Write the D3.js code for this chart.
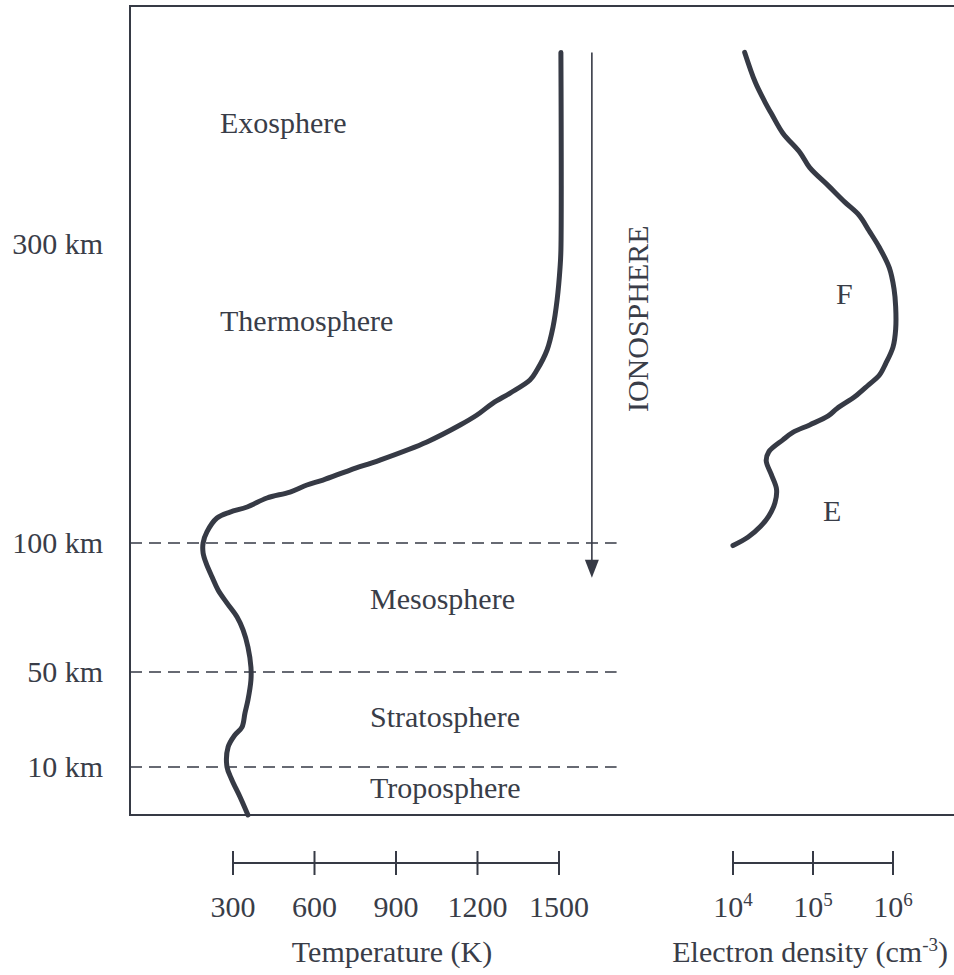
<!DOCTYPE html>
<html>
<head>
<meta charset="utf-8">
<script src="https://cdn.jsdelivr.net/npm/d3@7"></script>
<style>
  html, body { margin: 0; padding: 0; background: #ffffff; }
  svg text { font-family: "Liberation Serif", "Times New Roman", serif; fill: #393d48; }
</style>
</head>
<body>
<svg id="chart" width="954" height="975"></svg>
<script>
// Altitude axis: labelled heights and the layer boundaries drawn as dashed lines
const altitudeTicks = [10, 50, 100, 300];
const altitudeTickLabels = ["10 km", "50 km", "100 km", "300 km"];
const boundaryAltitudes = [10, 50, 100];

// Temperature scale bar
const temperatureTicks = [300, 600, 900, 1200, 1500];

// Electron density scale bar (powers of ten)
const densityExponents = [4, 5, 6];

// Temperature profile: altitude (km) and temperature (K)
const tempAltitude = [0, 3.75, 7.3, 10, 18.4, 23.5, 26.8, 32.7, 38.2, 46.6, 51.9, 59.7, 66.3, 71.3,
  76.7, 81.8, 86.8, 92.2, 96.1, 100, 107.4, 116.7, 120.7, 124.1, 130.1, 134.1, 138.8, 142.1, 148.8,
  155.5, 167.6, 178.9, 185.6, 193.6, 200.3, 209, 215.7, 229.1, 244.5, 262.5, 284.6, 296, 428];
const tempKelvin = [355, 326, 296, 278, 282, 307, 333, 344, 355, 366, 366, 355, 337, 315,
  278, 245, 223, 201, 190, 190, 204, 241, 289, 352, 425, 510, 572, 631, 731,
  841, 1014, 1136, 1198, 1257, 1320, 1393, 1419, 1456, 1478, 1493, 1504, 1507, 1507];

// Electron density profile: altitude (km) and density (cm^-3)
const densAltitude = [428, 408, 395, 386, 374, 361, 351, 339, 328, 319, 309, 298, 284, 270, 258,
  243, 231, 220, 212, 206, 198, 190, 185, 179, 174, 169, 161, 155, 146, 136, 127, 118, 111, 104, 99];
const densValue = [1.4e4, 1.9e4, 2.5e4, 3.1e4, 4.2e4, 6.9e4, 9.1e4, 1.55e5, 2.5e5, 3.8e5, 5.0e5,
  6.7e5, 9.0e5, 1.03e6, 1.08e6, 1.08e6, 1.0e6, 8.1e5, 6.7e5, 5.0e5, 3.35e5, 2.0e5, 1.55e5, 9.1e4,
  5.6e4, 4.2e4, 2.8e4, 2.6e4, 3.0e4, 3.5e4, 3.35e4, 2.8e4, 2.2e4, 1.55e4, 1.0e4];

// Atmospheric layer names
const layerNames = ["Exosphere", "Thermosphere", "Mesosphere", "Stratosphere", "Troposphere"];
const layerNameAltitudes = [374, 242, 74.4, 26.8, 3.5];
const ionosphereLabel = "IONOSPHERE";
const ionosphereTop = 428, ionosphereBottom = 86.5;
const regionLabels = ["F", "E"];
const regionAltitudes = [260, 115];

const ink = "#363a45";
const W = 954;
const svg = d3.select("#chart");

// Piecewise-linear altitude scale (the diagram stretches the lower atmosphere)
const y = d3.scaleLinear()
  .domain([0, 10, 50, 100, 300, 459])
  .range([815, 767, 672, 543, 244, 6]);
const xT = d3.scaleLinear().domain([300, 1500]).range([233, 559]);
const xN = d3.scaleLog().domain([1e4, 1e6]).range([733, 893]);

const frameLeft = 130;
const yTop = y(459), yBottom = y(0);

// Frame: left axis, top and bottom rules
const frame = svg.append("g").attr("stroke", ink).attr("stroke-width", 2).attr("fill", "none");
frame.append("path").attr("d", `M${W},${yTop}H${frameLeft}V${yBottom}H${W}`);

// Layer boundaries
svg.append("g").selectAll("line").data(boundaryAltitudes).join("line")
  .attr("x1", frameLeft).attr("x2", xT(1712))
  .attr("y1", d => y(d)).attr("y2", d => y(d))
  .attr("stroke", ink).attr("stroke-width", 1.6)
  .attr("stroke-dasharray", "12,7");

// Altitude labels
svg.append("g").selectAll("text").data(altitudeTicks).join("text")
  .attr("x", 103).attr("y", d => y(d) + 10)
  .attr("text-anchor", "end").attr("font-size", 30)
  .text((d, i) => altitudeTickLabels[i]);

// Temperature profile
const line = d3.line().curve(d3.curveCatmullRom.alpha(0.5));
svg.append("path")
  .attr("d", line(tempAltitude.map((a, i) => [xT(tempKelvin[i]), y(a)])))
  .attr("fill", "none").attr("stroke", ink).attr("stroke-width", 5)
  .attr("stroke-linecap", "round").attr("stroke-linejoin", "round");

// Electron density profile
svg.append("path")
  .attr("d", line(densAltitude.map((a, i) => [xN(densValue[i]), y(a)])))
  .attr("fill", "none").attr("stroke", ink).attr("stroke-width", 5)
  .attr("stroke-linecap", "round").attr("stroke-linejoin", "round");

// Ionosphere arrow
const arrowX = xT(1621);
const tipY = y(ionosphereBottom);
svg.append("line")
  .attr("x1", arrowX).attr("x2", arrowX)
  .attr("y1", y(ionosphereTop)).attr("y2", tipY - 10)
  .attr("stroke", ink).attr("stroke-width", 1.6);
svg.append("path")
  .attr("d", `M${arrowX},${tipY}L${arrowX - 7},${tipY - 18}L${arrowX + 7},${tipY - 18}Z`)
  .attr("fill", ink);
svg.append("text")
  .attr("transform", `translate(${arrowX + 56},${y(250)}) rotate(-90)`)
  .attr("text-anchor", "middle").attr("font-size", 30)
  .text(ionosphereLabel);

// Layer names
svg.append("g").selectAll("text").data(layerNames).join("text")
  .attr("x", (d, i) => i < 2 ? 220 : 370)
  .attr("y", (d, i) => y(layerNameAltitudes[i]))
  .attr("font-size", 30)
  .text(d => d);

// Ionospheric region labels
svg.append("g").selectAll("text").data(regionLabels).join("text")
  .attr("x", (d, i) => i === 0 ? 836 : 823)
  .attr("y", (d, i) => y(regionAltitudes[i]))
  .attr("font-size", 30)
  .text(d => d);

// Temperature scale bar
const barY = 863;
const tBar = svg.append("g").attr("stroke", ink).attr("stroke-width", 2);
tBar.append("line").attr("x1", xT(300)).attr("x2", xT(1500)).attr("y1", barY).attr("y2", barY);
tBar.selectAll(".tick").data(temperatureTicks).join("line")
  .attr("x1", d => xT(d)).attr("x2", d => xT(d))
  .attr("y1", barY - 12).attr("y2", barY + 12);
svg.append("g").selectAll("text").data(temperatureTicks).join("text")
  .attr("x", d => xT(d)).attr("y", 917)
  .attr("text-anchor", "middle").attr("font-size", 30)
  .text(d => d);
svg.append("text")
  .attr("x", (xT(300) + xT(1500)) / 2 - 4).attr("y", 962)
  .attr("text-anchor", "middle").attr("font-size", 30)
  .text("Temperature (K)");

// Electron density scale bar
const nBar = svg.append("g").attr("stroke", ink).attr("stroke-width", 2);
nBar.append("line").attr("x1", xN(1e4)).attr("x2", xN(1e6)).attr("y1", barY).attr("y2", barY);
nBar.selectAll(".tick").data(densityExponents).join("line")
  .attr("x1", d => xN(Math.pow(10, d))).attr("x2", d => xN(Math.pow(10, d)))
  .attr("y1", barY - 12).attr("y2", barY + 12);
const nLabels = svg.append("g").selectAll("text").data(densityExponents).join("text")
  .attr("x", d => xN(Math.pow(10, d))).attr("y", 917)
  .attr("text-anchor", "middle").attr("font-size", 30);
nLabels.append("tspan").text("10");
nLabels.append("tspan").attr("font-size", 19).attr("dy", -11).text(d => d);

const nTitle = svg.append("text")
  .attr("x", 948).attr("y", 962)
  .attr("text-anchor", "end").attr("font-size", 30);
nTitle.append("tspan").text("Electron density (cm");
nTitle.append("tspan").attr("font-size", 19).attr("dy", -11).text("-3");
nTitle.append("tspan").attr("dy", 11).text(")");
</script>
</body>
</html>
